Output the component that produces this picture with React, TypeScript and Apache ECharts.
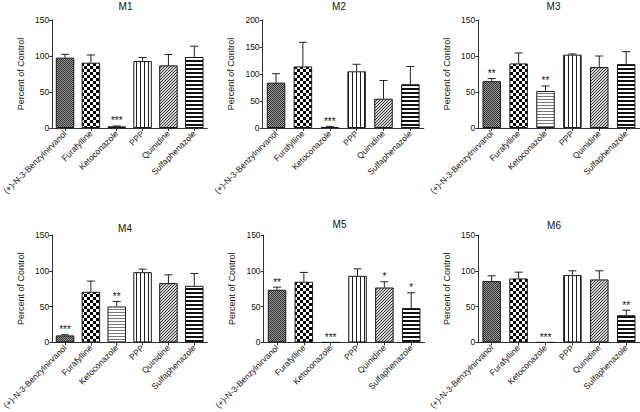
import React, { useEffect, useRef } from 'react';
import * as echarts from 'echarts';

const categories = ['(+)-N-3-Benzylnirvanol', 'Furafylline', 'Ketoconazole', 'PPP', 'Quinidine', 'Sulfaphenazole'];
const panelTitles = ['M1', 'M2', 'M3', 'M4', 'M5', 'M6'];
const yAxisName = 'Percent of Control';
const yMaxes = [150, 200, 150, 150, 150, 150];
const yStep = 50;

const m1Mean = [97.7, 90.7, 2.3, 93, 87, 98.6];
const m1Err = [4.6, 10.7, 0.5, 5, 15, 15];
const m1Sig = ['', '', '***', '', '', ''];

const m2Mean = [84, 114, 2, 105, 54.3, 81];
const m2Err = [16.6, 44.6, 1, 13, 33.7, 33];
const m2Sig = ['', '', '***', '', '', ''];

const m3Mean = [65, 89.7, 51.4, 101.9, 84.6, 88.8];
const m3Err = [3.7, 14.5, 7, 0.9, 15.4, 17.2];
const m3Sig = ['**', '', '**', '', '', ''];

const m4Mean = [9.8, 70.7, 50.2, 98.1, 82.8, 79];
const m4Err = [0.9, 14.9, 7, 4.2, 11.6, 17.3];
const m4Sig = ['***', '', '**', '', '', ''];

const m5Mean = [73.5, 84.7, 0, 93, 76.7, 47.9];
const m5Err = [3.7, 13, 0, 9.8, 8, 21.4];
const m5Sig = ['**', '', '***', '', '*', '*'];

const m6Mean = [85.6, 89.3, 0, 94, 88, 38];
const m6Err = [7.4, 8.8, 0, 6, 12, 7];
const m6Sig = ['', '', '***', '', '', '**'];

const means = [m1Mean, m2Mean, m3Mean, m4Mean, m5Mean, m6Mean];
const errs = [m1Err, m2Err, m3Err, m4Err, m5Err, m6Err];
const sigs = [m1Sig, m2Sig, m3Sig, m4Sig, m5Sig, m6Sig];

// layout (pixels)
const gridBoxes = [
  { left: 45.5, top: 20, width: 161.7, height: 108 },
  { left: 262.6, top: 20, width: 161.2, height: 108 },
  { left: 478.3, top: 20, width: 161.3, height: 108 },
  { left: 45.5, top: 235, width: 161.7, height: 108 },
  { left: 263.6, top: 235, width: 161, height: 108 },
  { left: 478.2, top: 235, width: 161.5, height: 108 },
];
const titlePos = [
  { x: 125.5, y: 1 },
  { x: 339, y: 1 },
  { x: 553.5, y: 1 },
  { x: 125, y: 223 },
  { x: 339.5, y: 219 },
  { x: 554, y: 220 },
];

const FONT = '"Liberation Sans", Arial, Helvetica, sans-serif';

function tile(w: number, h: number, draw: (ctx: CanvasRenderingContext2D) => void) {
  const c = document.createElement('canvas');
  c.width = w;
  c.height = h;
  const ctx = c.getContext('2d')!;
  draw(ctx);
  return { image: c.toDataURL(), repeat: 'repeat', imageWidth: w, imageHeight: h } as any;
}

function makePatterns() {
  const benz = tile(2, 2, (ctx) => {
    ctx.fillStyle = '#9a9a9a';
    ctx.fillRect(0, 0, 2, 2);
    ctx.fillStyle = '#303030';
    ctx.fillRect(0, 0, 1, 1);
    ctx.fillRect(1, 1, 1, 1);
  });
  const fura = tile(6, 6, (ctx) => {
    ctx.fillStyle = '#ffffff';
    ctx.fillRect(0, 0, 6, 6);
    ctx.fillStyle = '#000000';
    ctx.fillRect(0, 0, 3, 3);
    ctx.fillRect(3, 3, 3, 3);
  });
  const keto = tile(1, 3, (ctx) => {
    ctx.fillStyle = '#ffffff';
    ctx.fillRect(0, 0, 1, 3);
    ctx.fillStyle = '#7a7a7a';
    ctx.fillRect(0, 0, 1, 1);
  });
  const ppp = tile(4, 1, (ctx) => {
    ctx.fillStyle = '#ffffff';
    ctx.fillRect(0, 0, 4, 1);
    ctx.fillStyle = '#222222';
    ctx.fillRect(0, 0, 1, 1);
  });
  const quin = tile(3, 3, (ctx) => {
    ctx.fillStyle = '#d0d0d0';
    ctx.fillRect(0, 0, 3, 3);
    ctx.fillStyle = '#404040';
    ctx.fillRect(2, 0, 1, 1);
    ctx.fillRect(1, 1, 1, 1);
    ctx.fillRect(0, 2, 1, 1);
  });
  const sulf = tile(1, 4, (ctx) => {
    ctx.fillStyle = '#ffffff';
    ctx.fillRect(0, 0, 1, 4);
    ctx.fillStyle = '#111111';
    ctx.fillRect(0, 0, 1, 2);
  });
  return [benz, fura, keto, ppp, quin, sulf];
}

export default function App() {
  const ref = useRef<HTMLDivElement>(null);
  useEffect(() => {
    if (!ref.current) return;
    const chart = echarts.init(ref.current, null, { renderer: 'svg' });
    const patterns = makePatterns();

    const grids: any[] = [];
    const xAxes: any[] = [];
    const yAxes: any[] = [];
    const series: any[] = [];
    const titles: any[] = [];

    for (let p = 0; p < 6; p++) {
      const g = gridBoxes[p];
      grids.push({ left: g.left, top: g.top, width: g.width, height: g.height, containLabel: false });
      titles.push({
        text: panelTitles[p],
        left: titlePos[p].x,
        top: titlePos[p].y,
        textAlign: 'center',
        padding: 0,
        textStyle: { fontSize: 10, fontWeight: 'normal', color: '#111', fontFamily: FONT },
      });
      xAxes.push({
        type: 'category',
        gridIndex: p,
        data: categories,
        axisLine: { show: true, lineStyle: { color: '#333', width: 1 } },
        axisTick: { show: true, alignWithLabel: true, length: 3, lineStyle: { color: '#333' } },
        axisLabel: { interval: 0, rotate: 45, fontSize: 8.5, margin: 4, color: '#111', fontFamily: FONT },
        splitLine: { show: false },
      });
      yAxes.push({
        type: 'value',
        gridIndex: p,
        min: 0,
        max: yMaxes[p],
        interval: yStep,
        name: yAxisName,
        nameLocation: 'middle',
        nameGap: 27,
        nameTextStyle: { fontSize: 9, color: '#111', fontFamily: FONT },
        axisLine: { show: true, lineStyle: { color: '#333', width: 1 } },
        axisTick: { show: true, length: 3, lineStyle: { color: '#333' } },
        axisLabel: { fontSize: 8.5, margin: 3, color: '#111', fontFamily: FONT },
        splitLine: { show: false },
      });
      const mean = means[p];
      const err = errs[p];
      const sig = sigs[p];
      series.push({
        type: 'bar',
        xAxisIndex: p,
        yAxisIndex: p,
        barWidth: 18.5,
        data: mean.map((v, i) => ({
          value: v,
          itemStyle: { color: patterns[i], borderColor: '#1a1a1a', borderWidth: 1 },
        })),
        z: 2,
      });
      series.push({
        type: 'custom',
        xAxisIndex: p,
        yAxisIndex: p,
        clip: false,
        z: 3,
        itemStyle: { color: '#111' },
        encode: { x: 0, y: [1, 2] },
        data: mean.map((v, i) => [i, v, v + err[i]]),
        renderItem: (params: any, api: any) => {
          const idx = api.value(0);
          const m = api.value(1);
          const top = api.value(2);
          const p0 = api.coord([idx, m]);
          const p1 = api.coord([idx, top]);
          const children: any[] = [];
          if (top - m > 0.3) {
            children.push({
              type: 'line',
              shape: { x1: p0[0], y1: p0[1], x2: p1[0], y2: p1[1] },
              style: { stroke: '#222', lineWidth: 1 },
            });
            children.push({
              type: 'line',
              shape: { x1: p1[0] - 4, y1: p1[1], x2: p1[0] + 4, y2: p1[1] },
              style: { stroke: '#222', lineWidth: 1 },
            });
          }
          const s = sig[params.dataIndex];
          if (s) {
            children.push({
              type: 'text',
              x: p1[0],
              y: p1[1] - 5,
              style: {
                text: s,
                fontSize: 10,
                fontFamily: FONT,
                fill: '#111',
                align: 'center',
                verticalAlign: 'middle',
              },
            });
          }
          return { type: 'group', children };
        },
      });
    }

    chart.setOption({
      animation: false,
      backgroundColor: '#ffffff',
      color: ['#111'],
      textStyle: { fontFamily: FONT },
      title: titles,
      grid: grids,
      xAxis: xAxes,
      yAxis: yAxes,
      series,
    });
    return () => chart.dispose();
  }, []);
  return (
    <div
      ref={ref}
      style={{ position: 'absolute', left: 0, top: 0, width: 640, height: 412, background: '#fff' }}
    />
  );
}
